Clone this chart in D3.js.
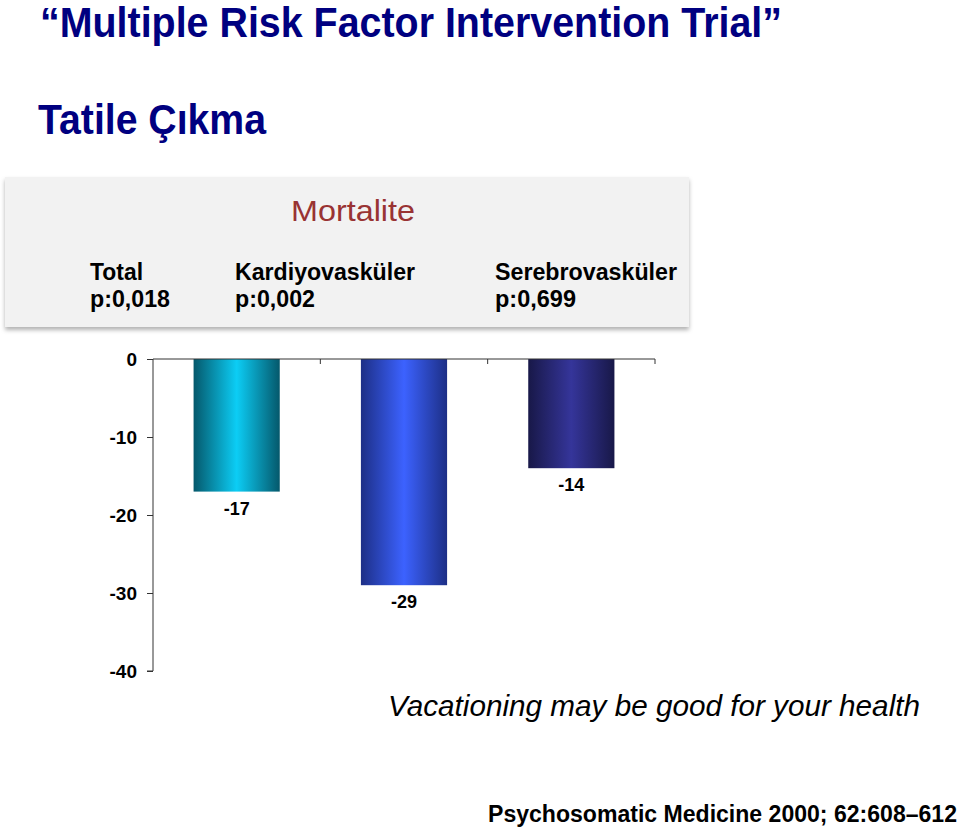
<!DOCTYPE html>
<html>
<head>
<meta charset="utf-8">
<script src="https://cdn.jsdelivr.net/npm/d3@7"></script>
<style>
  body { margin: 0; background: #fff; }
  svg { display: block; font-family: "Liberation Sans", Arial, sans-serif; }
</style>
</head>
<body>
<svg id="chart" width="960" height="830"></svg>
<script>
// chart data
const categories = ["Total", "Kardiyovasküler", "Serebrovasküler"];
const pValues = ["p:0,018", "p:0,002", "p:0,699"];
const values = [-17, -29, -14];
const yTicks = [0, -10, -20, -30, -40];
// gradient stops per bar: edge, centre
const barColors = [
    ["#05586b", "#0ccdf5"],
    ["#1d2f86", "#3c62ff"],
    ["#181848", "#35359a"]
];

const svg = d3.select("#chart");
const defs = svg.append("defs");

// titles (condensed look via textLength)
svg.append("text")
    .attr("x", 40).attr("y", 37)
    .attr("fill", "#000080")
    .attr("font-weight", "bold")
    .attr("font-size", 42)
    .attr("textLength", 742)
    .attr("lengthAdjust", "spacingAndGlyphs")
    .text("\u201CMultiple Risk Factor Intervention Trial\u201D");

svg.append("text")
    .attr("x", 38).attr("y", 134)
    .attr("fill", "#000080")
    .attr("font-weight", "bold")
    .attr("font-size", 42)
    .attr("textLength", 228)
    .attr("lengthAdjust", "spacingAndGlyphs")
    .text("Tatile Çıkma");

// legend panel with shadow
const shadow = defs.append("filter").attr("id", "shadow")
    .attr("x", "-5%").attr("y", "-10%").attr("width", "110%").attr("height", "130%");
shadow.append("feDropShadow")
    .attr("dx", 0).attr("dy", 3).attr("stdDeviation", 2)
    .attr("flood-color", "#000").attr("flood-opacity", 0.3);

svg.append("rect")
    .attr("x", 5).attr("y", 177)
    .attr("width", 684).attr("height", 150)
    .attr("fill", "#f2f2f2")
    .attr("filter", "url(#shadow)");

svg.append("text")
    .attr("x", 353).attr("y", 221)
    .attr("text-anchor", "middle")
    .attr("fill", "#993333")
    .attr("font-size", 30)
    .attr("textLength", 124)
    .attr("lengthAdjust", "spacingAndGlyphs")
    .text("Mortalite");

const legendX = [90, 235, 495];
const legendW = [[53, 80], [180, 80], [182, 81]];
categories.forEach((c, i) => {
    svg.append("text")
        .attr("x", legendX[i]).attr("y", 280)
        .attr("font-weight", "bold").attr("font-size", 23)
        .attr("textLength", legendW[i][0])
        .attr("lengthAdjust", "spacingAndGlyphs")
        .text(c);
    svg.append("text")
        .attr("x", legendX[i]).attr("y", 307)
        .attr("font-weight", "bold").attr("font-size", 23)
        .attr("textLength", legendW[i][1])
        .attr("lengthAdjust", "spacingAndGlyphs")
        .text(pValues[i]);
});

// scales
const x = d3.scaleBand()
    .domain(categories)
    .range([153, 655])
    .paddingInner(0.485)
    .paddingOuter(0.2425);

const y = d3.scaleLinear()
    .domain([0, -40])
    .range([359, 671]);

// gradients
barColors.forEach((c, i) => {
    const g = defs.append("linearGradient").attr("id", "bar" + i)
        .attr("x1", "0%").attr("x2", "100%").attr("y1", "0%").attr("y2", "0%");
    g.append("stop").attr("offset", "0%").attr("stop-color", c[0]);
    g.append("stop").attr("offset", "50%").attr("stop-color", c[1]);
    g.append("stop").attr("offset", "100%").attr("stop-color", c[0]);
});

// bars
svg.selectAll("rect.bar")
    .data(values)
    .enter().append("rect")
    .attr("class", "bar")
    .attr("x", (d, i) => x(categories[i]))
    .attr("y", y(0))
    .attr("width", x.bandwidth())
    .attr("height", d => y(d) - y(0))
    .attr("fill", (d, i) => `url(#bar${i})`);

// value labels
svg.selectAll("text.val")
    .data(values)
    .enter().append("text")
    .attr("class", "val")
    .attr("x", (d, i) => x(categories[i]) + x.bandwidth() / 2)
    .attr("y", d => y(d) + 23)
    .attr("text-anchor", "middle")
    .attr("font-weight", "bold")
    .attr("font-size", 18)
    .text(d => `${d}`);

// y axis
const yAxis = svg.append("g")
    .attr("transform", `translate(${x.range()[0]},0)`)
    .call(d3.axisLeft(y).tickValues(yTicks).tickFormat(d => `${d}`).tickSize(6).tickPadding(10));
yAxis.select(".domain").attr("stroke", "#333").attr("d", `M-6,${y(-40)}H0V${y(0)}`);
yAxis.selectAll(".tick line").attr("stroke", "#333");
yAxis.selectAll(".tick text")
    .style("font-family", "Liberation Sans, Arial, sans-serif")
    .style("font-weight", "bold")
    .style("font-size", "19px")
    .attr("fill", "#000");

// x axis along zero, ticks at band boundaries pointing down
const xAxis = svg.append("g");
xAxis.append("line")
    .attr("x1", x.range()[0]).attr("x2", x.range()[1])
    .attr("y1", y(0)).attr("y2", y(0))
    .attr("stroke", "#333");
const step = x.step();
xAxis.selectAll("line.tk")
    .data(categories)
    .enter().append("line")
    .attr("class", "tk")
    .attr("x1", (d, i) => x.range()[0] + step * (i + 1))
    .attr("x2", (d, i) => x.range()[0] + step * (i + 1))
    .attr("y1", y(0)).attr("y2", y(0) + 5)
    .attr("stroke", "#333");

// footer text
svg.append("text")
    .attr("x", 388).attr("y", 716)
    .attr("font-style", "italic")
    .attr("font-size", 30)
    .attr("textLength", 532)
    .attr("lengthAdjust", "spacingAndGlyphs")
    .text("Vacationing may be good for your health");

svg.append("text")
    .attr("x", 488).attr("y", 822)
    .attr("font-weight", "bold")
    .attr("font-size", 23)
    .attr("textLength", 469)
    .attr("lengthAdjust", "spacingAndGlyphs")
    .text("Psychosomatic Medicine 2000; 62:608\u2013612");
</script>
</body>
</html>
